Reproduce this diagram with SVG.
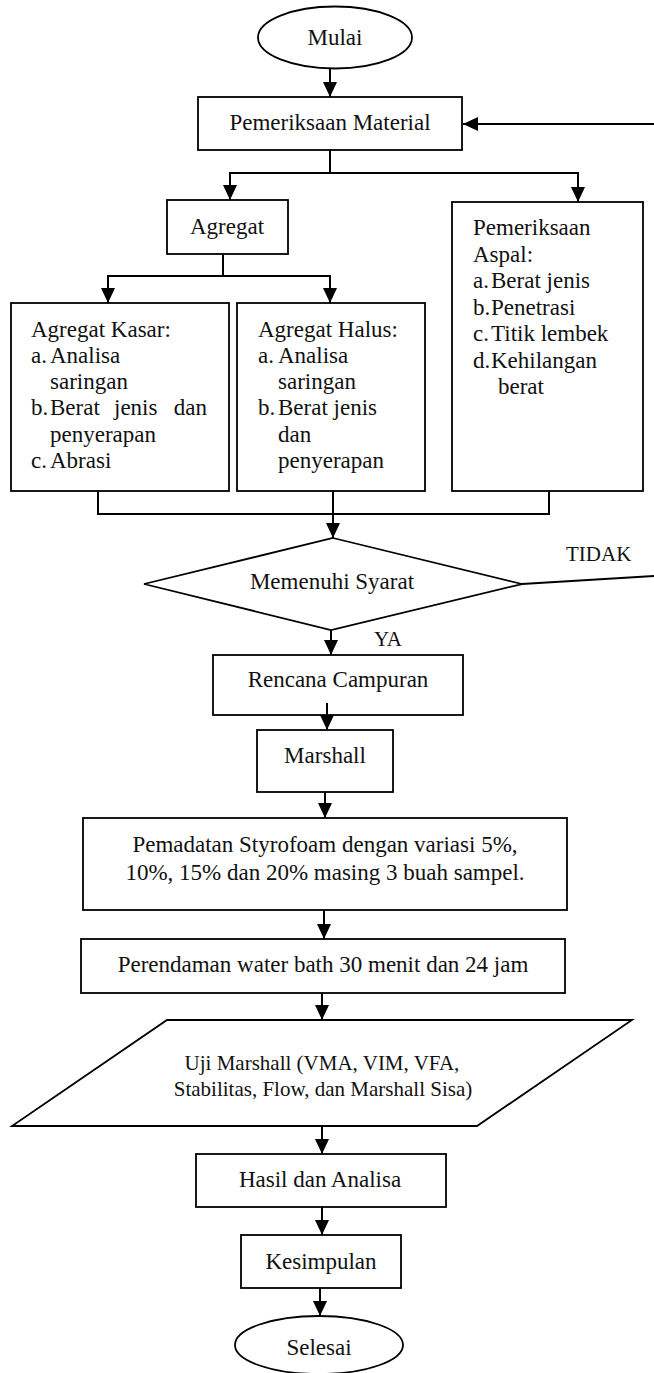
<svg xmlns="http://www.w3.org/2000/svg" width="654" height="1373" viewBox="0 0 654 1373">
<style>
.s{fill:#fff;stroke:#000;stroke-width:1.8}
.c{fill:none;stroke:#000;stroke-width:2}
.t{font-family:"Liberation Serif","Times New Roman",serif;font-size:23px;fill:#111}
.m{text-anchor:middle}
.e{text-anchor:end}
.sm{font-size:21px}
</style>
<defs>
<marker id="ah" markerUnits="userSpaceOnUse" markerWidth="16" markerHeight="15" refX="15" refY="7" orient="auto">
<path d="M0,0 L15,7 L0,14 z" fill="#000"/>
</marker>
</defs>
<rect width="654" height="1373" fill="#fff"/>

<g id="connectors" class="c">
<line x1="330" y1="68" x2="330" y2="97" marker-end="url(#ah)"/>
<line x1="654" y1="124" x2="463" y2="124" marker-end="url(#ah)"/>
<polyline points="330,150 330,173"/>
<polyline points="230,173 579,173"/>
<line x1="230" y1="172" x2="230" y2="200" marker-end="url(#ah)"/>
<line x1="578" y1="172" x2="578" y2="202" marker-end="url(#ah)"/>
<polyline points="223,254 223,276"/>
<polyline points="108,276 331,276"/>
<line x1="108" y1="275" x2="108" y2="303" marker-end="url(#ah)"/>
<line x1="330" y1="275" x2="330" y2="303" marker-end="url(#ah)"/>
<polyline points="98,491 98,514 549,514 549,491"/>
<line x1="333" y1="491" x2="333" y2="538" marker-end="url(#ah)"/>
<line x1="522" y1="584" x2="654" y2="576"/>
<line x1="331" y1="630" x2="331" y2="655" marker-end="url(#ah)"/>
<line x1="327" y1="703" x2="327" y2="730" marker-end="url(#ah)"/>
<line x1="325" y1="792" x2="325" y2="818" marker-end="url(#ah)"/>
<line x1="324" y1="910" x2="324" y2="939" marker-end="url(#ah)"/>
<line x1="322" y1="993" x2="322" y2="1020" marker-end="url(#ah)"/>
<line x1="322" y1="1126" x2="322" y2="1154" marker-end="url(#ah)"/>
<line x1="322" y1="1207" x2="322" y2="1235" marker-end="url(#ah)"/>
<line x1="320" y1="1288" x2="320" y2="1316" marker-end="url(#ah)"/>
</g>
<g id="labels">
<text class="t sm" x="566" y="561">TIDAK</text>
<text class="t sm" x="374" y="646">YA</text>
</g>

<g id="mulai">
<ellipse class="s" cx="335" cy="37.5" rx="77" ry="31"/>
<text class="t m" x="335" y="45">Mulai</text>
</g>
<g id="pemeriksaan-material">
<rect class="s" x="198" y="97" width="264" height="53"/>
<text class="t m" x="330" y="130">Pemeriksaan Material</text>
</g>
<g id="agregat">
<rect class="s" x="167" y="200" width="121" height="54"/>
<text class="t m" x="227" y="234">Agregat</text>
</g>
<g id="aspal">
<rect class="s" x="452" y="202" width="191" height="289"/>
<text class="t" x="473" y="235">Pemeriksaan</text>
<text class="t" x="473" y="262">Aspal:</text>
<text class="t" x="473" y="288">a.</text><text class="t" x="491" y="288">Berat jenis</text>
<text class="t" x="473" y="315">b.</text><text class="t" x="491" y="315">Penetrasi</text>
<text class="t" x="473" y="341">c.</text><text class="t" x="491" y="341">Titik lembek</text>
<text class="t" x="473" y="368">d.</text><text class="t" x="491" y="368">Kehilangan</text>
<text class="t" x="498" y="394">berat</text>
</g>
<g id="agregat-kasar">
<rect class="s" x="11" y="303" width="218" height="188"/>
<text class="t" x="31" y="337">Agregat Kasar:</text>
<text class="t" x="31" y="363">a.</text><text class="t" x="50" y="363">Analisa</text>
<text class="t" x="50" y="389">saringan</text>
<text class="t" x="31" y="415">b.</text><text class="t" x="50" y="415">Berat</text><text class="t" x="114" y="415">jenis</text><text class="t e" x="207" y="415">dan</text>
<text class="t" x="50" y="442">penyerapan</text>
<text class="t" x="31" y="468">c.</text><text class="t" x="50" y="468">Abrasi</text>
</g>
<g id="agregat-halus">
<rect class="s" x="237" y="303" width="188" height="188"/>
<text class="t" x="258" y="337">Agregat Halus:</text>
<text class="t" x="258" y="363">a.</text><text class="t" x="278" y="363">Analisa</text>
<text class="t" x="278" y="389">saringan</text>
<text class="t" x="258" y="415">b.</text><text class="t" x="278" y="415">Berat jenis</text>
<text class="t" x="278" y="442">dan</text>
<text class="t" x="278" y="468">penyerapan</text>
</g>
<g id="memenuhi-syarat">
<polygon class="s" points="333,538 522,584 331,630 144,584"/>
<text class="t m" x="332" y="589">Memenuhi Syarat</text>
</g>
<g id="rencana-campuran">
<rect class="s" x="213" y="655" width="250" height="60"/>
<line x1="327" y1="703" x2="327" y2="715" stroke="#000" stroke-width="2"/>
<text class="t m" x="338" y="687">Rencana Campuran</text>
</g>
<g id="marshall">
<rect class="s" x="257" y="730" width="136" height="62"/>
<text class="t m" x="325" y="763">Marshall</text>
</g>
<g id="pemadatan">
<rect class="s" x="83" y="818" width="484" height="92"/>
<text class="t m" x="325" y="852">Pemadatan Styrofoam dengan variasi 5%,</text>
<text class="t m" x="325" y="880">10%, 15% dan 20% masing 3 buah sampel.</text>
</g>
<g id="perendaman">
<rect class="s" x="81" y="939" width="484" height="54"/>
<text class="t m" x="323" y="972">Perendaman water bath 30 menit dan 24 jam</text>
</g>
<g id="uji-marshall">
<polygon class="s" points="167,1020 632,1020 477,1126 12,1126"/>
<text class="t m sm" x="322" y="1070">Uji Marshall (VMA, VIM, VFA,</text>
<text class="t m sm" x="323" y="1096">Stabilitas, Flow, dan Marshall Sisa)</text>
</g>
<g id="hasil">
<rect class="s" x="196" y="1154" width="250" height="53"/>
<text class="t m" x="320" y="1187">Hasil dan Analisa</text>
</g>
<g id="kesimpulan">
<rect class="s" x="241" y="1235" width="160" height="53"/>
<text class="t m" x="321" y="1269">Kesimpulan</text>
</g>
<g id="selesai">
<ellipse class="s" cx="319" cy="1345" rx="84" ry="29"/>
<text class="t m" x="319" y="1355">Selesai</text>
</g>
</svg>
